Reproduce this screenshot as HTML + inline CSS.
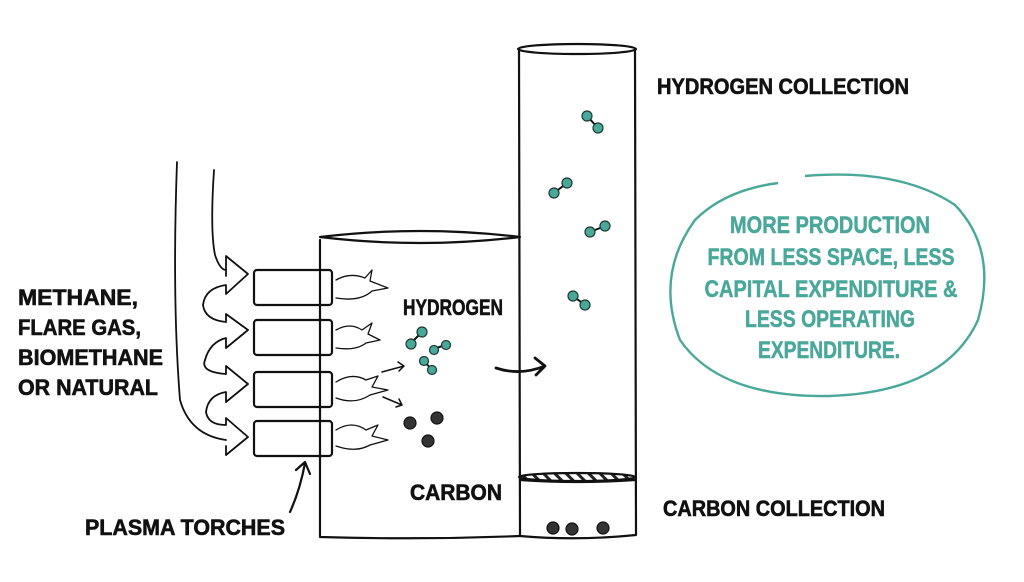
<!DOCTYPE html>
<html><head><meta charset="utf-8"><style>
html,body{margin:0;padding:0;background:#fff;}
svg{display:block;}
text{font-family:"Liberation Sans",sans-serif;font-weight:bold;}
</style></head><body>
<svg width="1024" height="582" viewBox="0 0 1024 582" xmlns="http://www.w3.org/2000/svg">
<defs>
<pattern id="hatch" width="8" height="8" patternUnits="userSpaceOnUse" patternTransform="rotate(-45)">
<rect width="8" height="8" fill="#fff"/><rect width="3" height="8" fill="#222"/></pattern>
</defs>
<g fill="none" stroke="#111" stroke-width="2.2" stroke-linecap="round" stroke-linejoin="round">
<ellipse cx="577" cy="49" rx="59" ry="5"/>
<path d="M519 50 L520 536 Q577 541 636 535 L635 50"/>
<ellipse cx="577" cy="477" rx="58" ry="4" fill="url(#hatch)"/>
<path d="M520 480 Q577 484 635 480"/>
<path d="M320 237 Q420 225 520 237 Q420 249 320 237"/>
<path d="M320 240 L320 537 Q420 540 520 536"/>
<rect x="254" y="270" width="78" height="35" rx="3"/>
<rect x="254" y="320" width="78" height="35" rx="3"/>
<rect x="254" y="372" width="78" height="35" rx="3"/>
<rect x="254" y="421" width="78" height="35" rx="3"/>
<path d="M177 162 Q172 300 180 400 Q190 435 226 440" stroke-width="1.8"/>
<path d="M214 170 Q210 230 215 255 Q220 270 226 270" stroke-width="1.8"/>
<g stroke-width="1.8">
<path d="M226 262 L226 276 M226 262 L226 256 L248 274 L226 294 L226 285 Q205 288 203 305"/>
<path d="M203 305 Q205 320 226 322 L226 314 L248 330 L226 348 L226 338 Q210 342 205 360"/>
<path d="M205 360 Q200 372 226 374 L226 366 L248 384 L226 402 L226 392 Q208 395 206 412"/>
<path d="M206 412 Q208 425 226 425 L226 418 L248 437 L226 455 L226 446"/>
</g>
<g stroke-width="1.3">
<path d="M336 280 Q350 272 365 278 L372 270 L370 281 L388 288 L372 291 Q360 302 336 298"/>
<path d="M336 330 Q350 322 362 330 L372 323 L368 334 L380 340 L366 343 Q356 351 336 348"/>
<path d="M336 382 Q352 372 366 380 L378 376 L372 387 L388 390 L370 395 Q355 405 336 398"/>
<path d="M336 430 Q352 420 366 430 L378 425 L372 436 L388 440 L370 445 Q356 453 336 446"/>
</g>
<path d="M382 372 L404 366 M398 362 l6 4 l-5 5" stroke-width="1.5"/>
<path d="M383 397 L402 405 M396 407 l6 -2 l-3 -6" stroke-width="1.5"/>
<path d="M496 368 Q520 376 545 366 M535 358 L545 366 L536 375" stroke-width="2.8"/>
<path d="M290 512 Q300 490 305 463 M296 470 L305 462 L310 474" stroke-width="2.2"/>
<g stroke-width="2"><path d="M411 343 L422 332 M434 349 L445 345 M424 361 L432 370 M587 116 L598 128 M554 193 L567 183 M590 232 L605 226 M573 296 L585 305"/></g>
</g>
<g fill="#4aa89a" stroke="#1d3a36" stroke-width="1.2">
<circle cx="411" cy="344" r="5"/><circle cx="422" cy="332" r="5"/><circle cx="434" cy="350" r="4.5"/><circle cx="446" cy="345" r="4.5"/><circle cx="424" cy="361" r="4.5"/><circle cx="432" cy="370" r="4.5"/>
<circle cx="587" cy="116" r="5"/><circle cx="598" cy="128" r="5"/><circle cx="554" cy="193" r="5"/><circle cx="567" cy="183" r="5"/><circle cx="590" cy="232" r="5"/><circle cx="605" cy="226" r="5"/><circle cx="573" cy="296" r="5"/><circle cx="585" cy="305" r="5"/>
</g>
<g fill="#333" stroke="#111" stroke-width="1.2">
<circle cx="410" cy="423" r="6"/><circle cx="437" cy="418" r="6"/><circle cx="428" cy="441" r="6"/>
<circle cx="553" cy="528" r="6"/><circle cx="572" cy="529" r="6"/><circle cx="603" cy="528" r="6"/>
</g>
<path d="M805 176 Q900 168 955 205 Q998 250 978 320 Q945 392 830 396 Q720 398 680 340 Q655 275 695 220 Q725 190 778 183" fill="none" stroke="#4aa89a" stroke-width="2.4"/>
<g fill="#111" font-size="22" stroke="#111" stroke-width="0.6">
<text x="18" y="305" textLength="120" lengthAdjust="spacingAndGlyphs">METHANE,</text>
<text x="18" y="335" textLength="123" lengthAdjust="spacingAndGlyphs">FLARE GAS,</text>
<text x="18" y="365" textLength="145" lengthAdjust="spacingAndGlyphs">BIOMETHANE</text>
<text x="18" y="395" textLength="140" lengthAdjust="spacingAndGlyphs">OR NATURAL</text>
<text x="85" y="535" textLength="200" lengthAdjust="spacingAndGlyphs">PLASMA TORCHES</text>
<text x="403" y="315" textLength="100" lengthAdjust="spacingAndGlyphs">HYDROGEN</text>
<text x="410" y="500" textLength="92" lengthAdjust="spacingAndGlyphs">CARBON</text>
<text x="657" y="94" textLength="252" lengthAdjust="spacingAndGlyphs">HYDROGEN COLLECTION</text>
<text x="663" y="516" textLength="222" lengthAdjust="spacingAndGlyphs">CARBON COLLECTION</text>
</g>
<g fill="#4aa89a" font-size="24" text-anchor="middle" stroke="#4aa89a" stroke-width="0.5">
<text x="830" y="233" textLength="200" lengthAdjust="spacingAndGlyphs">MORE PRODUCTION</text>
<text x="831" y="265" textLength="247" lengthAdjust="spacingAndGlyphs">FROM LESS SPACE, LESS</text>
<text x="831" y="297" textLength="253" lengthAdjust="spacingAndGlyphs">CAPITAL EXPENDITURE &amp;</text>
<text x="830" y="327" textLength="170" lengthAdjust="spacingAndGlyphs">LESS OPERATING</text>
<text x="829" y="358" textLength="142" lengthAdjust="spacingAndGlyphs">EXPENDITURE.</text>
</g>
</svg>
</body></html>
